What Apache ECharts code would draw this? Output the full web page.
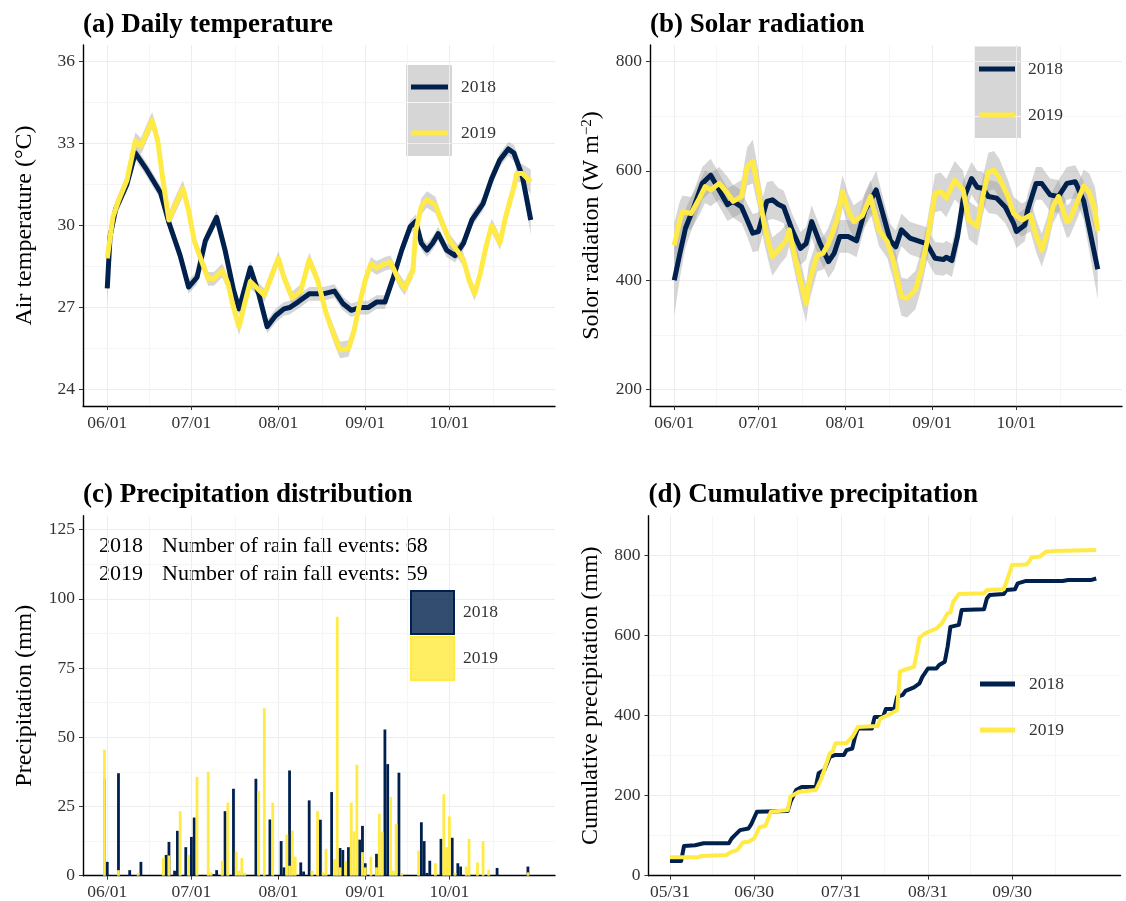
<!DOCTYPE html>
<html>
<head>
<meta charset="utf-8">
<script src="https://cdn.jsdelivr.net/npm/echarts@6/dist/echarts.min.js"></script>
<style>
  html, body { margin: 0; padding: 0; background: #ffffff; }
  #chart { width: 1126px; height: 901px; }
</style>
</head>
<body>
<div id="chart"></div>
<script>
// Day index: 0 = 1 June of each year.
const years = ['2018', '2019'];
const yearColors = ['#00204D', '#FFEA46'];

const monthTickDays = [0, 30, 61, 92, 122];
const monthTickLabels = ['06/01', '07/01', '08/01', '09/01', '10/01'];
const monthEndTickDays = [-1, 29, 60, 91, 121];
const monthEndTickLabels = ['05/31', '06/30', '07/31', '08/31', '09/30'];

const tempTicks = [24, 27, 30, 33, 36];
const radTicks = [200, 400, 600, 800];
const rainTicks = [0, 25, 50, 75, 100, 125];
const cumTicks = [0, 200, 400, 600, 800];

const rainEventCounts = [68, 59];

// Smoothed daily air temperature: [day, °C, band half-width]
const temp2018 = [[0,27.7,0.6],[1,29.6,0.4],[3,30.6,0.3],[7,31.5,0.25],[10,32.65,0.25],[14,32.05,0.25],[19,31.2,0.25],[22,30.1,0.25],[26,28.9,0.25],[29,27.75,0.25],[32,28.1,0.25],[35,29.45,0.25],[39,30.3,0.25],[42,29.1,0.25],[45,27.65,0.25],[47,26.95,0.25],[51,28.45,0.25],[54,27.5,0.25],[57,26.3,0.25],[60,26.7,0.25],[63,26.95,0.25],[65,27.0,0.25],[68,27.2,0.25],[72,27.5,0.25],[77,27.5,0.25],[81,27.6,0.25],[84,27.15,0.25],[87,26.9,0.25],[90,27.0,0.25],[93,27.0,0.25],[96,27.2,0.25],[99,27.2,0.25],[102,28.1,0.25],[105,29.1,0.25],[108,29.95,0.25],[110,30.15,0.25],[112,29.35,0.25],[114,29.1,0.25],[116,29.35,0.25],[118,29.7,0.25],[121,29.1,0.25],[124,28.9,0.25],[127,29.35,0.25],[130,30.2,0.25],[134,30.8,0.25],[137,31.7,0.25],[140,32.4,0.25],[143,32.8,0.25],[145,32.65,0.3],[148,31.8,0.35],[151,30.2,0.55]];
const temp2019 = [[0,28.8,0.35],[2,30.3,0.3],[4,30.9,0.25],[7,31.65,0.25],[10,33.1,0.3],[12,32.9,0.3],[16,33.85,0.3],[18,33.1,0.3],[20,31.55,0.3],[22,30.2,0.3],[24,30.7,0.3],[27,31.35,0.3],[29,30.55,0.3],[31,29.45,0.25],[34,28.6,0.25],[36,28.05,0.25],[38,28.05,0.25],[41,28.35,0.25],[43,27.9,0.25],[45,27.0,0.25],[47,26.3,0.3],[49,27.15,0.25],[51,27.95,0.25],[54,27.65,0.25],[56,27.45,0.25],[58,28.0,0.25],[61,28.8,0.25],[63,28.1,0.25],[66,27.35,0.25],[69,27.6,0.25],[72,28.75,0.25],[75,28.0,0.25],[78,26.8,0.25],[81,25.95,0.3],[83,25.45,0.3],[86,25.5,0.3],[88,26.15,0.3],[90,27.15,0.25],[92,28.0,0.25],[94,28.6,0.25],[96,28.45,0.25],[99,28.6,0.25],[101,28.65,0.25],[104,28.0,0.25],[106,27.7,0.25],[109,28.35,0.25],[110,29.8,0.25],[112,30.7,0.3],[114,30.95,0.3],[117,30.75,0.3],[119,30.2,0.25],[122,29.45,0.25],[125,29.05,0.25],[127,28.75,0.25],[129,28.0,0.25],[131,27.5,0.25],[133,28.25,0.25],[135,29.2,0.25],[137,30.0,0.25],[139,29.6,0.25],[140,29.35,0.25],[142,30.3,0.3],[145,31.4,0.3],[146,31.9,0.3],[148,31.9,0.35],[151,31.6,0.45]];

// Smoothed solar radiation: [day, W m-2, band half-width]
const rad2018 = [[0,400,65],[2,449,45],[4,495,35],[7,534,30],[10,577,30],[13,592,30],[16,565,30],[19,538,30],[21,544,30],[24,534,30],[26,510,30],[28,486,35],[30,489,35],[33,544,35],[35,547,35],[37,539,30],[39,534,30],[42,492,30],[45,458,30],[47,467,30],[49,507,30],[52,467,30],[55,434,30],[57,449,30],[59,480,30],[62,480,30],[65,472,30],[68,528,30],[72,565,35],[75,510,30],[77,473,30],[79,461,30],[81,492,30],[84,477,30],[88,470,30],[90,467,30],[93,440,30],[96,438,30],[97,442,30],[99,436,30],[101,480,30],[103,547,35],[106,586,30],[108,570,30],[110,568,30],[112,553,30],[115,550,30],[118,534,30],[121,504,30],[122,489,30],[125,501,30],[126,528,30],[129,577,30],[131,577,30],[134,556,30],[137,553,30],[140,577,30],[143,580,30],[146,545,35],[151,420,55]];
const rad2019 = [[0,464,40],[2,510,35],[3,525,30],[6,522,30],[9,550,30],[11,571,30],[13,565,30],[16,577,30],[19,559,30],[21,544,30],[24,553,30],[26,608,35],[28,617,40],[30,565,35],[32,504,35],[34,461,35],[35,443,35],[38,461,30],[40,473,30],[41,492,30],[43,443,30],[45,400,35],[47,357,35],[48,394,35],[51,446,30],[53,449,30],[55,467,30],[58,510,30],[60,562,30],[62,528,30],[64,507,30],[67,518,30],[70,553,30],[73,492,30],[76,470,30],[78,437,35],[81,370,35],[83,367,35],[86,382,35],[88,418,35],[90,467,35],[93,559,35],[95,562,35],[97,550,35],[100,583,35],[103,565,35],[105,510,35],[108,498,35],[110,553,35],[112,598,35],[114,601,35],[116,586,35],[119,553,30],[121,522,30],[124,510,30],[127,519,30],[129,482,30],[131,455,30],[133,486,30],[135,534,30],[137,553,30],[140,507,30],[141,510,30],[144,547,30],[146,572,30],[148,560,35],[150,530,40],[151,490,45]];

// Daily precipitation: [day, mm]
const rain2018 = [[-1,35],[0,5],[4,37],[8,2],[12,5],[21,7.5],[22,12.2],[24,1.8],[25,16.2],[28,10.3],[30,14],[31,21],[38,0.6],[39,2],[42,23.3],[45,31.4],[53,35],[58,20.3],[62,12.5],[63,3],[65,38],[69,4.8],[70,1.5],[72,27.2],[76,20.2],[80,30.2],[83,10],[84,9.3],[86,10.3],[90,13],[91,18],[92,4.5],[96,7.9],[99,52.8],[100,40.3],[104,37.2],[112,19.3],[113,12.5],[114,1],[115,5.4],[119,13.3],[123,13.7],[125,4.5],[126,3.3],[139,2.8],[150,3.3]];
const rain2019 = [[-1,45.5],[4,2],[11,1],[20,6.4],[22,7.3],[26,23.3],[29,7.5],[32,35.7],[36,37.5],[37,1.2],[41,5.4],[43,26.4],[46,8.7],[47,1.8],[48,6.4],[49,1],[54,30.6],[56,60.5],[59,26.4],[64,14.9],[65,3.6],[66,16.3],[67,6.9],[73,1.8],[75,23.3],[77,1.2],[78,9.7],[81,6],[82,93.5],[83,3],[85,5.2],[87,26.4],[88,16],[89,40.1],[91,8.5],[92,3],[94,6.9],[96,3],[97,22.4],[98,15.7],[101,28.4],[102,1.8],[103,18.7],[105,1],[111,9.1],[117,4.5],[120,29.4],[121,10.3],[122,21.4],[124,1],[128,3.3],[129,13.3],[132,4.8],[134,12.5],[136,2],[150,1.2]];

// Cumulative precipitation: [day, mm]
const cum2018 = [[-1,36.7],[3,37],[4,74],[8,76],[11,81],[20,81],[21,93],[22,100],[24,114],[27,118],[28,129],[30,160],[41,162],[42,185],[44,214],[46,222],[51,222],[52,256],[54,264],[56,297],[58,302],[61,302],[62,314],[64,318],[65,347],[66,368],[71,368],[72,397],[75,397],[76,417],[79,417],[80,447],[82,452],[83,462],[86,471],[88,481],[89,497],[91,518],[94,518],[95,527],[97,535],[98,572],[99,622],[102,627],[103,664],[111,666],[112,693],[113,702],[118,704],[119,714],[122,716],[123,731],[126,737],[139,737],[141,739],[149,739],[151,743]];
const cum2019 = [[-1,46],[9,46],[10,49],[19,52],[21,60],[23,64],[25,83],[27,85],[29,93],[31,122],[33,124],[35,160],[41,164],[42,198],[45,210],[51,214],[53,243],[56,306],[57,310],[58,331],[62,332],[64,347],[66,372],[73,374],[74,393],[76,399],[79,410],[80,414],[81,510],[83,516],[86,522],[87,556],[88,595],[90,606],[94,618],[96,631],[98,656],[99,658],[100,685],[102,704],[111,706],[112,714],[118,716],[119,735],[121,777],[126,778],[127,785],[128,796],[131,798],[133,810],[136,812],[151,814]];

const FONT = 'Liberation Serif';
const TICK_COLOR = '#333333';
const MAJOR_GRID = '#EDEDED';
const MINOR_GRID = '#F5F5F5';
const BAND_FILL = 'rgba(153,153,153,0.4)';
const X_MIN = -8.65, X_MAX = 159.65;

function labelFor(ticks, labels) {
  return function (v) {
    for (let i = 0; i < ticks.length; i++) if (Math.abs(ticks[i] - v) < 1e-6) return labels[i];
    return '';
  };
}

function xAxisFor(gridIndex, ticks, labels) {
  return {
    type: 'value', gridIndex: gridIndex, min: X_MIN, max: X_MAX,
    axisLine: { show: true, onZero: false, lineStyle: { color: '#000', width: 1.4 } },
    axisTick: { show: true, length: 4, customValues: ticks, lineStyle: { color: TICK_COLOR, width: 1 } },
    axisLabel: { customValues: ticks, formatter: labelFor(ticks, labels), fontFamily: FONT, fontSize: 17.5, color: TICK_COLOR, margin: 8 },
    splitLine: { show: true, lineStyle: { color: MAJOR_GRID, width: 1 } }
  };
}

function yAxisFor(gridIndex, min, max, ticks, name, rich) {
  const nameStyle = { fontFamily: FONT, fontSize: 24, color: '#000' };
  if (rich) nameStyle.rich = rich;
  return {
    type: 'value', gridIndex: gridIndex, min: min, max: max,
    name: name, nameLocation: 'middle', nameGap: 46, nameTextStyle: nameStyle,
    axisLine: { show: true, onZero: false, lineStyle: { color: '#000', width: 1.4 } },
    axisTick: { show: true, length: 4, customValues: ticks, lineStyle: { color: TICK_COLOR, width: 1 } },
    axisLabel: { customValues: ticks, fontFamily: FONT, fontSize: 17.5, color: TICK_COLOR, margin: 8 },
    splitLine: { show: true, lineStyle: { color: MAJOR_GRID, width: 1 } }
  };
}

function minorGrid(xs, ys) {
  return {
    silent: true, symbol: 'none', animation: false, z: 0,
    label: { show: false },
    lineStyle: { color: MINOR_GRID, width: 1, type: 'solid' },
    emphasis: { disabled: true },
    data: xs.map(v => ({ xAxis: v })).concat(ys.map(v => ({ yAxis: v })))
  };
}

// Confidence ribbon around a smoothed line, drawn as one polygon through the axis scales.
function ribbon(data, axisIdx, minor) {
  const upper = data.map(d => [d[0], d[1] + d[2]]);
  const lower = data.map(d => [d[0], d[1] - d[2]]);
  const s = {
    type: 'custom', xAxisIndex: axisIdx, yAxisIndex: axisIdx, silent: true, z: 1, clip: true,
    encode: { x: 0, y: 1 },
    data: data.map(d => [d[0], d[1]]),
    renderItem: function (params, api) {
      if (params.dataIndex !== 0) return null;
      const pts = upper.map(p => api.coord(p)).concat(lower.slice().reverse().map(p => api.coord(p)));
      return { type: 'polygon', shape: { points: pts }, style: { fill: BAND_FILL, stroke: null } };
    }
  };
  if (minor) s.markLine = minor;
  return s;
}

function smoothLine(name, color, data, axisIdx) {
  return {
    type: 'line', name: name, xAxisIndex: axisIdx, yAxisIndex: axisIdx,
    data: data.map(d => [d[0], d[1]]), symbol: 'none', z: 3,
    lineStyle: { color: color, width: 5, join: 'round', cap: 'butt' },
    itemStyle: { color: color }, emphasis: { disabled: true }
  };
}

const xMinorA = [15, 45.5, 76.5, 107, 137.5];
const xMinorD = [14, 44.5, 75.5, 106, 136.5];

const series = [
  ribbon(temp2018, 0, minorGrid(xMinorA, [25.5, 28.5, 31.5, 34.5])),
  ribbon(temp2019, 0, null),
  smoothLine(years[0], yearColors[0], temp2018, 0),
  smoothLine(years[1], yearColors[1], temp2019, 0),
  ribbon(rad2018, 1, minorGrid(xMinorA, [300, 500, 700])),
  ribbon(rad2019, 1, null),
  smoothLine(years[0], yearColors[0], rad2018, 1),
  smoothLine(years[1], yearColors[1], rad2019, 1),
  {
    type: 'bar', name: years[0], xAxisIndex: 2, yAxisIndex: 2, data: rain2018,
    barWidth: 2.8, barGap: '-100%', itemStyle: { color: yearColors[0] }, z: 2,
    emphasis: { disabled: true }, markLine: minorGrid(xMinorA, [12.5, 37.5, 62.5, 87.5, 112.5])
  },
  {
    type: 'bar', name: years[1], xAxisIndex: 2, yAxisIndex: 2, data: rain2019,
    barWidth: 2.8, barGap: '-100%', itemStyle: { color: yearColors[1] }, z: 3,
    emphasis: { disabled: true }
  },
  {
    type: 'line', name: years[0], xAxisIndex: 3, yAxisIndex: 3, data: cum2018, symbol: 'none', z: 3,
    lineStyle: { color: yearColors[0], width: 4, join: 'round' }, itemStyle: { color: yearColors[0] },
    emphasis: { disabled: true }, markLine: minorGrid(xMinorD, [100, 300, 500, 700])
  },
  {
    type: 'line', name: years[1], xAxisIndex: 3, yAxisIndex: 3, data: cum2019, symbol: 'none', z: 3,
    lineStyle: { color: yearColors[1], width: 4, join: 'round' }, itemStyle: { color: yearColors[1] },
    emphasis: { disabled: true }
  }
];

function lineLegend(left, top, iconWidth, textPad) {
  return {
    orient: 'vertical', left: left, top: top, padding: 0, itemGap: 26,
    itemWidth: iconWidth, itemHeight: 5, selectedMode: false,
    textStyle: { fontFamily: FONT, fontSize: 17.5, color: TICK_COLOR, lineHeight: 20, padding: [0, 0, 0, textPad] },
    data: years.map((y, i) => ({ name: y, icon: 'rect', itemStyle: { color: yearColors[i], borderWidth: 0 } }))
  };
}

const titleStyle = { fontFamily: FONT, fontSize: 27, fontWeight: 'bold', color: '#000' };
const noteStyle = { fontFamily: FONT, fontSize: 22, fill: '#000' };

const option = {
  animation: false,
  backgroundColor: '#ffffff',
  title: [
    { text: '(a) Daily temperature', left: 83, top: 12, padding: 0, textStyle: titleStyle },
    { text: '(b) Solar radiation', left: 650, top: 12, padding: 0, textStyle: titleStyle },
    { text: '(c) Precipitation distribution', left: 83, top: 482, padding: 0, textStyle: titleStyle },
    { text: '(d) Cumulative precipitation', left: 648.5, top: 482, padding: 0, textStyle: titleStyle }
  ],
  grid: [
    { left: 83, top: 45, width: 472, height: 361, outerBoundsMode: 'none' },
    { left: 650, top: 45, width: 472, height: 361, outerBoundsMode: 'none' },
    { left: 83, top: 515.7, width: 472, height: 360, outerBoundsMode: 'none' },
    { left: 648.5, top: 515.7, width: 472, height: 360, outerBoundsMode: 'none' }
  ],
  xAxis: [
    xAxisFor(0, monthTickDays, monthTickLabels),
    xAxisFor(1, monthTickDays, monthTickLabels),
    xAxisFor(2, monthTickDays, monthTickLabels),
    xAxisFor(3, monthEndTickDays, monthEndTickLabels)
  ],
  yAxis: [
    yAxisFor(0, 23.4, 36.6, tempTicks, 'Air temperature (°C)'),
    yAxisFor(1, 170, 830, radTicks, 'Solor radiation (W m{sup|−2})',
      { sup: { fontFamily: FONT, fontSize: 15, color: '#000', verticalAlign: 'top', padding: [0, 0, 9, 0] } }),
    yAxisFor(2, 0, 130, rainTicks, 'Precipitation (mm)'),
    yAxisFor(3, 0, 900, cumTicks, 'Cumulative precipitation (mm)')
  ],
  legend: [
    lineLegend(411, 77, 37, 8),
    lineLegend(979, 59, 36, 8),
    {
      orient: 'vertical', left: 410, top: 590, padding: 0, itemGap: 1,
      itemWidth: 43, itemHeight: 43, selectedMode: false,
      textStyle: { fontFamily: FONT, fontSize: 17.5, color: TICK_COLOR, padding: [0, 0, 0, 4] },
      data: [
        { name: years[0], icon: 'rect', itemStyle: { color: 'rgba(0,32,77,0.8)', borderColor: yearColors[0], borderWidth: 2 } },
        { name: years[1], icon: 'rect', itemStyle: { color: 'rgba(255,234,70,0.85)', borderColor: yearColors[1], borderWidth: 2 } }
      ]
    },
    lineLegend(980, 674, 35, 9)
  ],
  graphic: [
    { type: 'rect', left: 406, top: 65, shape: { width: 46, height: 91 }, style: { fill: '#D6D6D6' }, z: -1, silent: true },
    { type: 'rect', left: 975, top: 46.5, shape: { width: 46, height: 91.5 }, style: { fill: '#D6D6D6' }, z: -1, silent: true },
    { type: 'text', left: 99, top: 535, style: Object.assign({ text: years[0] }, noteStyle), silent: true },
    { type: 'text', left: 162, top: 535, style: Object.assign({ text: 'Number of rain fall events: ' + rainEventCounts[0] }, noteStyle), silent: true },
    { type: 'text', left: 99, top: 563, style: Object.assign({ text: years[1] }, noteStyle), silent: true },
    { type: 'text', left: 162, top: 563, style: Object.assign({ text: 'Number of rain fall events: ' + rainEventCounts[1] }, noteStyle), silent: true }
  ],
  series: series
};

const chart = echarts.init(document.getElementById('chart'), null, { renderer: 'canvas' });
chart.setOption(option);
</script>
</body>
</html>
